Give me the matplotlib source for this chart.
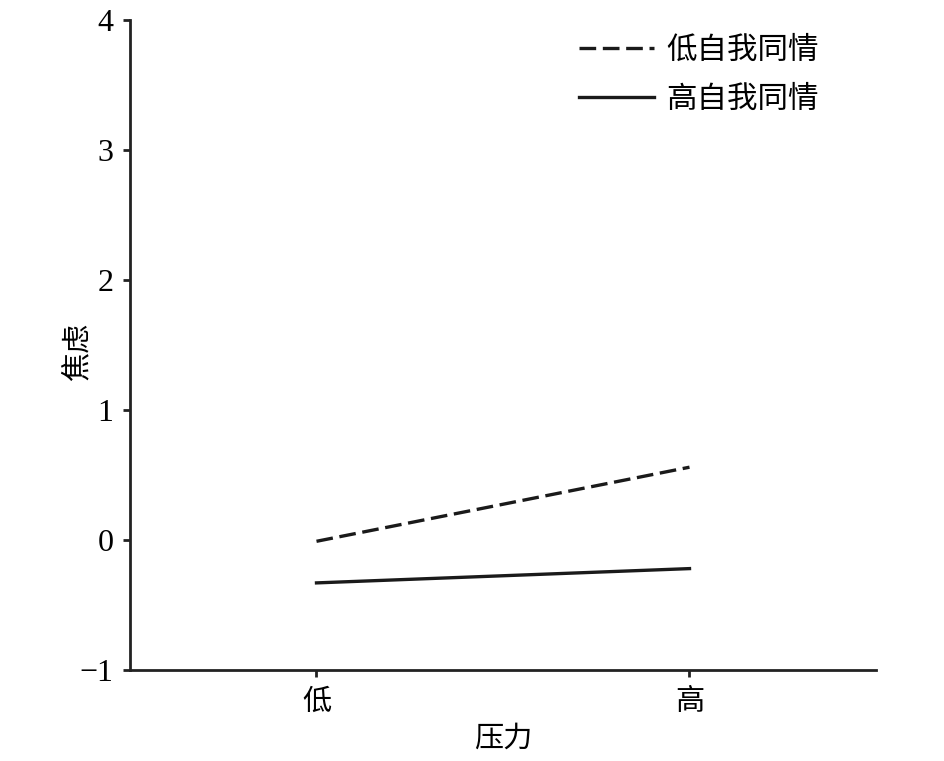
import numpy as np
import matplotlib.pyplot as plt

# 数据
stress_levels = ['低', '高']
low_compassion = [-0.01, 0.56]    # 低自我同情
high_compassion = [-0.33, -0.22]  # 高自我同情
y_ticks = [-1, 0, 1, 2, 3, 4]
y_tick_labels = ['\u22121', '0', '1', '2', '3', '4']

serif_fonts = ['Liberation Serif', 'Noto Sans CJK SC']
cjk_fonts = ['Noto Sans CJK SC', 'DejaVu Sans']
plt.rcParams['font.family'] = serif_fonts

fig = plt.figure(figsize=(9.45, 7.61), dpi=100)
ax = fig.add_axes([130 / 945, 1 - 670 / 761, (876 - 130) / 945, (670 - 20) / 761])

x = np.arange(len(stress_levels))
ax.plot(x, low_compassion, color='#1a1a1a', linewidth=2.4,
        linestyle=(0, (5, 2)), label='低自我同情')
ax.plot(x, high_compassion, color='#1a1a1a', linewidth=2.4,
        linestyle='-', label='高自我同情')

ax.set_xlim(-0.5, 1.5)
ax.set_ylim(-1, 4)
ax.set_xticks(x)
ax.set_xticklabels(stress_levels, fontsize=21, family=cjk_fonts)
ax.set_yticks(y_ticks)
ax.set_yticklabels(y_tick_labels, fontsize=23)

for side in ['top', 'right']:
    ax.spines[side].set_visible(False)
for side in ['left', 'bottom']:
    ax.spines[side].set_linewidth(2)
    ax.spines[side].set_color('#222222')
ax.tick_params(direction='out', length=5, width=2, color='#222222', pad=7)

ax.set_xlabel('压力', fontsize=21, family=cjk_fonts, labelpad=5)
ax.set_ylabel('焦虑', fontsize=21, family=cjk_fonts)
ax.yaxis.set_label_coords(-0.05, 0.49)

leg = ax.legend(loc='upper right', bbox_to_anchor=(0.96, 1.02), frameon=False,
                handlelength=2.45, handletextpad=0.4, labelspacing=0.6,
                prop={'family': cjk_fonts, 'size': 22})

fig.savefig('out.png', dpi=100)
